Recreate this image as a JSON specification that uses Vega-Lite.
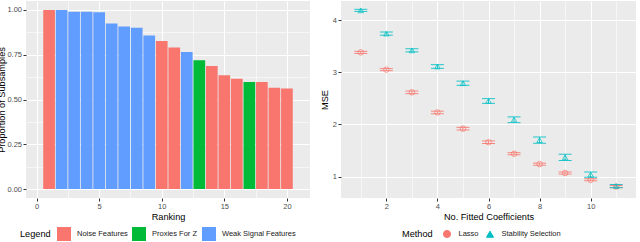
{
  "$schema": "https://vega.github.io/schema/vega-lite/v6.json",
  "padding": {"left": -3, "top": 1, "right": 0, "bottom": 0},
  "spacing": 10,
  "config": {
    "font": "Liberation Sans",
    "view": {"fill": "#EBEBEB", "stroke": null},
    "axis": {
      "domain": false,
      "tickColor": "#333333",
      "tickSize": 3,
      "labelFontSize": 7.5,
      "labelColor": "#4D4D4D",
      "labelPadding": 1.5,
      "labelOverlap": false,
      "titleFontSize": 9.2,
      "titleFontWeight": "normal",
      "titleColor": "#000000",
      "gridColor": "#FFFFFF",
      "gridOpacity": 1
    },
    "legend": {
      "labelFontSize": 7.5,
      "labelColor": "#1A1A1A",
      "titleFontSize": 9.2,
      "titleFontWeight": "normal",
      "titleColor": "#000000"
    }
  },
  "resolve": {"scale": {"color": "independent", "shape": "independent"}, "legend": {"color": "independent", "shape": "independent"}},
  "hconcat": [
    {
      "width": 284,
      "height": 197,
      "data": {"values": [
        {"rank": 1, "prop": 1.0, "type": "Noise Features"},
        {"rank": 2, "prop": 1.0, "type": "Weak Signal Features"},
        {"rank": 3, "prop": 0.99, "type": "Weak Signal Features"},
        {"rank": 4, "prop": 0.99, "type": "Weak Signal Features"},
        {"rank": 5, "prop": 0.987, "type": "Weak Signal Features"},
        {"rank": 6, "prop": 0.925, "type": "Weak Signal Features"},
        {"rank": 7, "prop": 0.907, "type": "Weak Signal Features"},
        {"rank": 8, "prop": 0.9, "type": "Weak Signal Features"},
        {"rank": 9, "prop": 0.857, "type": "Weak Signal Features"},
        {"rank": 10, "prop": 0.827, "type": "Noise Features"},
        {"rank": 11, "prop": 0.79, "type": "Noise Features"},
        {"rank": 12, "prop": 0.765, "type": "Weak Signal Features"},
        {"rank": 13, "prop": 0.719, "type": "Proxies For Z"},
        {"rank": 14, "prop": 0.687, "type": "Noise Features"},
        {"rank": 15, "prop": 0.635, "type": "Noise Features"},
        {"rank": 16, "prop": 0.616, "type": "Noise Features"},
        {"rank": 17, "prop": 0.598, "type": "Proxies For Z"},
        {"rank": 18, "prop": 0.598, "type": "Noise Features"},
        {"rank": 19, "prop": 0.566, "type": "Noise Features"},
        {"rank": 20, "prop": 0.562, "type": "Noise Features"}
      ]},
      "mark": {"type": "bar", "width": 11.7},
      "encoding": {
        "x": {
          "field": "rank", "type": "quantitative", "title": "Ranking",
          "scale": {"domain": [-0.445, 21.445], "nice": false, "zero": false},
          "axis": {
            "values": [0, 2.5, 5, 7.5, 10, 12.5, 15, 17.5, 20],
            "labelExpr": "datum.value % 5 === 0 ? datum.label : ''",
            "grid": true,
            "gridWidth": {"condition": {"test": "datum.value % 5 === 0", "value": 1.1}, "value": 0.55},
            "tickOpacity": {"condition": {"test": "datum.value % 5 === 0", "value": 1}, "value": 0},
            "titlePadding": 2
          }
        },
        "y": {
          "field": "prop", "type": "quantitative", "title": "Proportion of Subsamples",
          "scale": {"domain": [-0.05, 1.05], "nice": false, "zero": false},
          "axis": {
            "values": [0, 0.125, 0.25, 0.375, 0.5, 0.625, 0.75, 0.875, 1],
            "labelExpr": "(datum.value * 4) % 1 === 0 ? format(datum.value, '.2f') : ''",
            "grid": true,
            "gridWidth": {"condition": {"test": "(datum.value * 4) % 1 === 0", "value": 1.1}, "value": 0.55},
            "tickOpacity": {"condition": {"test": "(datum.value * 4) % 1 === 0", "value": 1}, "value": 0},
            "titleX": -20
          }
        },
        "color": {
          "field": "type", "type": "nominal",
          "scale": {"domain": ["Noise Features", "Proxies For Z", "Weak Signal Features"], "range": ["#F8766D", "#00BA38", "#619CFF"]},
          "legend": {
            "title": "Legend", "orient": "none", "direction": "horizontal",
            "legendX": -6, "legendY": 226,
            "titleOrient": "left", "titlePadding": 6, "titleBaseline": "middle",
            "symbolType": "square", "symbolSize": 196, "symbolStrokeWidth": 0,
            "labelOffset": 6, "columnPadding": 4
          }
        }
      }
    },
    {
      "width": 295,
      "height": 197,
      "data": {"values": [
        {"method": "Lasso", "k": 1, "mse": 3.38, "lo": 3.36, "hi": 3.40},
        {"method": "Lasso", "k": 2, "mse": 3.05, "lo": 3.03, "hi": 3.07},
        {"method": "Lasso", "k": 3, "mse": 2.615, "lo": 2.59, "hi": 2.64},
        {"method": "Lasso", "k": 4, "mse": 2.23, "lo": 2.205, "hi": 2.255},
        {"method": "Lasso", "k": 5, "mse": 1.92, "lo": 1.895, "hi": 1.945},
        {"method": "Lasso", "k": 6, "mse": 1.66, "lo": 1.635, "hi": 1.685},
        {"method": "Lasso", "k": 7, "mse": 1.44, "lo": 1.42, "hi": 1.46},
        {"method": "Lasso", "k": 8, "mse": 1.24, "lo": 1.22, "hi": 1.26},
        {"method": "Lasso", "k": 9, "mse": 1.07, "lo": 1.05, "hi": 1.09},
        {"method": "Lasso", "k": 10, "mse": 0.94, "lo": 0.92, "hi": 0.96},
        {"method": "Lasso", "k": 11, "mse": 0.81, "lo": 0.79, "hi": 0.83},
        {"method": "Stability Selection", "k": 1, "mse": 4.185, "lo": 4.165, "hi": 4.205},
        {"method": "Stability Selection", "k": 2, "mse": 3.74, "lo": 3.71, "hi": 3.77},
        {"method": "Stability Selection", "k": 3, "mse": 3.42, "lo": 3.39, "hi": 3.45},
        {"method": "Stability Selection", "k": 4, "mse": 3.11, "lo": 3.075, "hi": 3.145},
        {"method": "Stability Selection", "k": 5, "mse": 2.79, "lo": 2.75, "hi": 2.83},
        {"method": "Stability Selection", "k": 6, "mse": 2.45, "lo": 2.405, "hi": 2.495},
        {"method": "Stability Selection", "k": 7, "mse": 2.09, "lo": 2.035, "hi": 2.145},
        {"method": "Stability Selection", "k": 8, "mse": 1.70, "lo": 1.64, "hi": 1.76},
        {"method": "Stability Selection", "k": 9, "mse": 1.37, "lo": 1.31, "hi": 1.43},
        {"method": "Stability Selection", "k": 10, "mse": 1.04, "lo": 0.99, "hi": 1.09},
        {"method": "Stability Selection", "k": 11, "mse": 0.82, "lo": 0.79, "hi": 0.85}
      ]},
      "encoding": {
        "x": {
          "field": "k", "type": "quantitative", "title": "No. Fitted Coefficients",
          "scale": {"domain": [0.225, 11.775], "nice": false, "zero": false},
          "axis": {
            "values": [1, 2, 3, 4, 5, 6, 7, 8, 9, 10, 11],
            "labelExpr": "datum.value % 2 === 0 ? datum.label : ''",
            "grid": true,
            "gridWidth": {"condition": {"test": "datum.value % 2 === 0", "value": 1.1}, "value": 0.55},
            "tickOpacity": {"condition": {"test": "datum.value % 2 === 0", "value": 1}, "value": 0},
            "titlePadding": 2
          }
        },
        "color": {
          "field": "method", "type": "nominal",
          "scale": {"domain": ["Lasso", "Stability Selection"], "range": ["#F8766D", "#00BFC4"]},
          "legend": {
            "title": "Method", "orient": "none", "direction": "horizontal",
            "legendX": 61, "legendY": 228,
            "titleOrient": "left", "titlePadding": 9.5, "titleBaseline": "middle",
            "symbolSize": 50, "symbolStrokeWidth": 1, "symbolOpacity": 1,
            "labelOffset": 7, "columnPadding": 4
          }
        }
      },
      "layer": [
        {
          "mark": {"type": "point", "filled": false, "size": 30, "opacity": 0.75, "strokeWidth": 1},
          "encoding": {
            "y": {
              "field": "mse", "type": "quantitative", "title": "MSE",
              "scale": {"domain": [0.592, 4.364], "nice": false, "zero": false},
              "axis": {
                "values": [1, 1.5, 2, 2.5, 3, 3.5, 4],
                "labelExpr": "datum.value % 1 === 0 ? datum.label : ''",
                "grid": true,
                "gridWidth": {"condition": {"test": "datum.value % 1 === 0", "value": 1.1}, "value": 0.55},
                "tickOpacity": {"condition": {"test": "datum.value % 1 === 0", "value": 1}, "value": 0},
                "titlePadding": 3
              }
            },
            "shape": {
              "field": "method", "type": "nominal", "legend": null,
              "scale": {"domain": ["Lasso", "Stability Selection"], "range": ["circle", "triangle-up"]}
            }
          }
        },
        {
          "mark": {"type": "errorbar", "ticks": {"size": 13}, "opacity": 0.85},
          "encoding": {
            "y": {"field": "lo", "type": "quantitative", "title": "MSE"},
            "y2": {"field": "hi"}
          }
        }
      ]
    }
  ]
}
